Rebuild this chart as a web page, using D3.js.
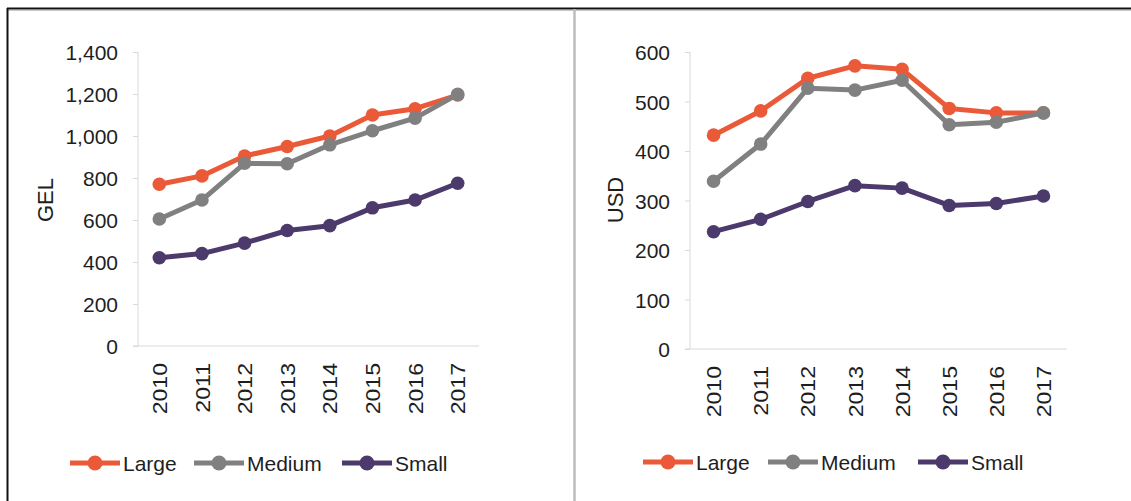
<!DOCTYPE html>
<html>
<head>
<meta charset="utf-8">
<script src="https://cdn.jsdelivr.net/npm/d3@7/dist/d3.min.js"></script>
<style>
  html, body { margin: 0; padding: 0; background: #fff; }
  svg { display: block; font-family: "Liberation Sans", Arial, sans-serif; }
</style>
</head>
<body>
<svg id="chart" width="1131" height="501"></svg>
<script>
const years = ["2010","2011","2012","2013","2014","2015","2016","2017"];
const seriesNames = ["Large","Medium","Small"];
const seriesColors = ["#EB5A38","#808080","#4B3A6B"];

const gelLarge  = [770, 810, 905, 950, 1000, 1100, 1130, 1195];
const gelMedium = [605, 695, 870, 868, 958, 1025, 1085, 1198];
const gelSmall  = [420, 440, 490, 550, 573, 658, 695, 775];
const gelTicks  = [0, 200, 400, 600, 800, 1000, 1200, 1400];

const usdLarge  = [432, 481, 547, 572, 565, 486, 477, 477];
const usdMedium = [339, 414, 527, 523, 543, 453, 458, 477];
const usdSmall  = [237, 262, 298, 330, 325, 290, 294, 309];
const usdTicks  = [0, 100, 200, 300, 400, 500, 600];

const svg = d3.select("#chart");
const FONT = "'Liberation Sans', Arial, sans-serif";
const TXT = "#1e1e1e";

// frame
svg.append("line").attr("x1", 7).attr("x2", 1131).attr("y1", 8.5).attr("y2", 8.5)
  .attr("stroke", "#111").attr("stroke-width", 2);
svg.append("line").attr("x1", 8).attr("x2", 1131).attr("y1", 10.5).attr("y2", 10.5)
  .attr("stroke", "#c8c8c8").attr("stroke-width", 1);
svg.append("line").attr("x1", 7.5).attr("x2", 7.5).attr("y1", 8).attr("y2", 501)
  .attr("stroke", "#111").attr("stroke-width", 2);
svg.append("line").attr("x1", 574.5).attr("x2", 574.5).attr("y1", 9).attr("y2", 501)
  .attr("stroke", "#bdbdbd").attr("stroke-width", 2.5);

function drawPanel(cfg) {
  const g = svg.append("g");
  const x = d3.scaleBand().domain(years).range([cfg.x0, cfg.x1]);
  const y = d3.scaleLinear().domain([0, cfg.max]).range([cfg.y0, cfg.y1]);

  // y axis
  const yAxis = d3.axisLeft(y).tickValues(cfg.ticks).tickSize(5).tickPadding(15)
    .tickFormat(d3.format(","));
  const ya = g.append("g").attr("transform", `translate(${cfg.x0},0)`).call(yAxis);
  ya.select(".domain").attr("stroke", "#d9d9d9").attr("d", `M0,${cfg.y1}V${cfg.y0}`);
  ya.selectAll(".tick line").attr("stroke", "#d9d9d9");
  ya.selectAll(".tick text").attr("fill", TXT).style("font-size", "21px")
    .style("font-family", FONT).attr("dy", "0.36em");

  // x axis
  const xAxis = d3.axisBottom(x).tickSize(0).tickPadding(0);
  const xa = g.append("g").attr("transform", `translate(0,${cfg.y0})`).call(xAxis);
  xa.select(".domain").attr("stroke", "#d9d9d9").attr("d", `M${cfg.x0 - 5},0H${cfg.x1}`);
  xa.selectAll(".tick text")
    .attr("fill", TXT).style("font-size", "21px")
    .style("font-family", FONT)
    .attr("text-anchor", "end")
    .attr("dy", "0.36em")
    .attr("transform", "translate(0,17) rotate(-90) scale(1.1,1)")
    .attr("x", 0).attr("y", 0);

  // y title
  g.append("text").attr("transform", `translate(${cfg.titleX},${cfg.titleY}) rotate(-90)`)
    .attr("text-anchor", "middle").attr("dy", "0.36em").attr("fill", TXT)
    .style("font-size", "22px").text(cfg.title);

  // lines
  const line = d3.line().x((d, i) => x(years[i]) + x.bandwidth() / 2).y(d => y(d));
  cfg.data.forEach((vals, si) => {
    g.append("path").datum(vals).attr("d", line).attr("fill", "none")
      .attr("stroke", seriesColors[si]).attr("stroke-width", 5)
      .attr("stroke-linejoin", "round");
    g.selectAll(null).data(vals).enter().append("circle")
      .attr("cx", (d, i) => x(years[i]) + x.bandwidth() / 2)
      .attr("cy", d => y(d)).attr("r", 6.8).attr("fill", seriesColors[si]);
  });

  // legend
  cfg.legend.forEach((lx, si) => {
    const lg = g.append("g").attr("transform", `translate(${lx},${cfg.legendY})`);
    lg.append("line").attr("x1", 0).attr("x2", 50).attr("y1", 0).attr("y2", 0)
      .attr("stroke", seriesColors[si]).attr("stroke-width", 5);
    lg.append("circle").attr("cx", 25).attr("cy", 0).attr("r", 7.5).attr("fill", seriesColors[si]);
    lg.append("text").attr("x", 53).attr("y", 0).attr("dy", "0.36em")
      .attr("fill", TXT).style("font-size", "21px").text(seriesNames[si]);
  });
}

drawPanel({
  x0: 138, x1: 479, y0: 346, y1: 52, max: 1400, ticks: gelTicks,
  title: "GEL", titleX: 45, titleY: 200,
  data: [gelLarge, gelMedium, gelSmall],
  legend: [70, 194, 342], legendY: 463
});

drawPanel({
  x0: 690, x1: 1067, y0: 349, y1: 52, max: 600, ticks: usdTicks,
  title: "USD", titleX: 615, titleY: 200,
  data: [usdLarge, usdMedium, usdSmall],
  legend: [643, 768, 918], legendY: 462
});
</script>
</body>
</html>
